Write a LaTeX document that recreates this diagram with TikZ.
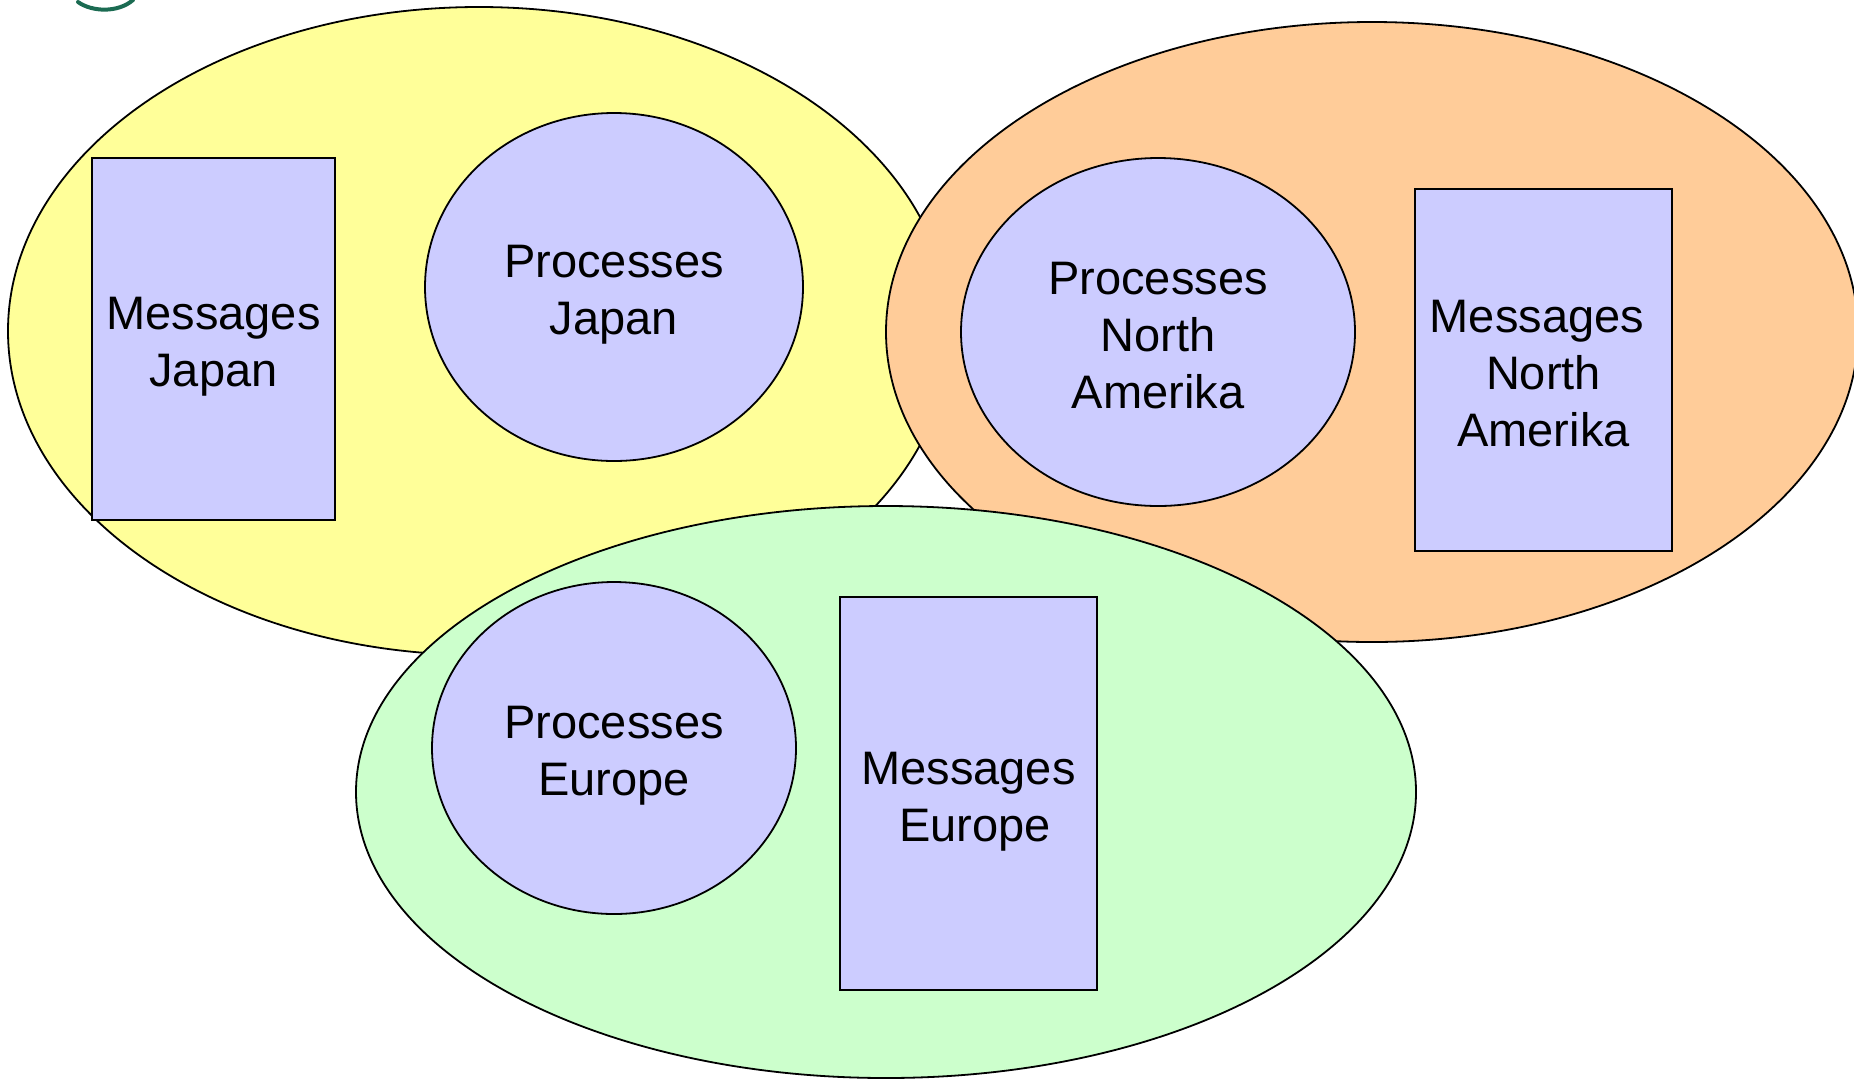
\documentclass[tikz,border=0pt]{standalone}
\usepackage{fontspec}
\setmainfont{Liberation Sans}
\usetikzlibrary{shapes.geometric}

\begin{document}
\begin{tikzpicture}[x=1pt,y=-1pt]

    % Espessura das linhas, tamanho do texto e suportes verticais
    \def\lw{1.8pt}
    \def\txt{\fontsize{47}{57}\selectfont}
    \def\tstrut{\rule{0pt}{50pt}}
    \def\bstrut{\rule[-12pt]{0pt}{12pt}}

    % Cores das regiões e dos blocos
    \definecolor{japan}{HTML}{FFFF99}
    \definecolor{namerica}{HTML}{FFCC99}
    \definecolor{europe}{HTML}{CCFFCC}
    \definecolor{lilac}{HTML}{CCCCFF}
    \definecolor{logo}{HTML}{1B6B52}

    % Estilo das regiões (elipses grandes)
    \tikzstyle{region} = [
      draw, ellipse, line width=\lw, inner sep=0pt
    ];

    % Estilo dos processos (elipses internas)
    \tikzstyle{process} = [
      draw, ellipse, fill=lilac, line width=\lw, inner sep=0pt,
      align=center, font=\txt
    ];

    % Estilo das mensagens (blocos retangulares)
    \tikzstyle{msgbox} = [
      draw, rectangle, fill=lilac, line width=\lw, inner sep=0pt,
      align=center, font=\txt
    ];

    \useasboundingbox (0,0) rectangle (1854,1080);

    % Pedaço do logotipo no canto
    \draw[logo, line width=4pt, line cap=round]
      (78,2) .. controls (92,12) and (118,13) .. (133,0);

    % Japão
    \node[region, fill=japan, minimum width=942, minimum height=648]
      (japan) at (479,331) {};
    \node[msgbox, minimum width=243, minimum height=362]
      (msgjapan) at (213.5,339) {\tstrut Messages\\Japan\bstrut};
    \node[process, minimum width=378, minimum height=348]
      (procjapan) at (614,287) {\tstrut Processes\\Japan\bstrut};

    % América do Norte
    \node[region, fill=namerica, minimum width=972, minimum height=620]
      (namerica) at (1372,332) {};
    \node[process, minimum width=394, minimum height=348]
      (procnamerica) at (1158,332) {\tstrut Processes\\North\\Amerika\bstrut};
    \node[msgbox, minimum width=257, minimum height=362]
      (msgnamerica) at (1543.5,370)
      {\tstrut Messages\hspace*{.28em}\\North\\Amerika\bstrut};

    % Europa
    \node[region, fill=europe, minimum width=1060, minimum height=572]
      (europe) at (886,792) {};
    \node[process, minimum width=364, minimum height=332]
      (proceurope) at (614,748) {\tstrut Processes\\Europe\bstrut};
    \node[msgbox, minimum width=257, minimum height=393]
      (msgeurope) at (968.5,793.5)
      {\tstrut Messages\\\hspace*{.28em}Europe\bstrut};

\end{tikzpicture}
\end{document}
